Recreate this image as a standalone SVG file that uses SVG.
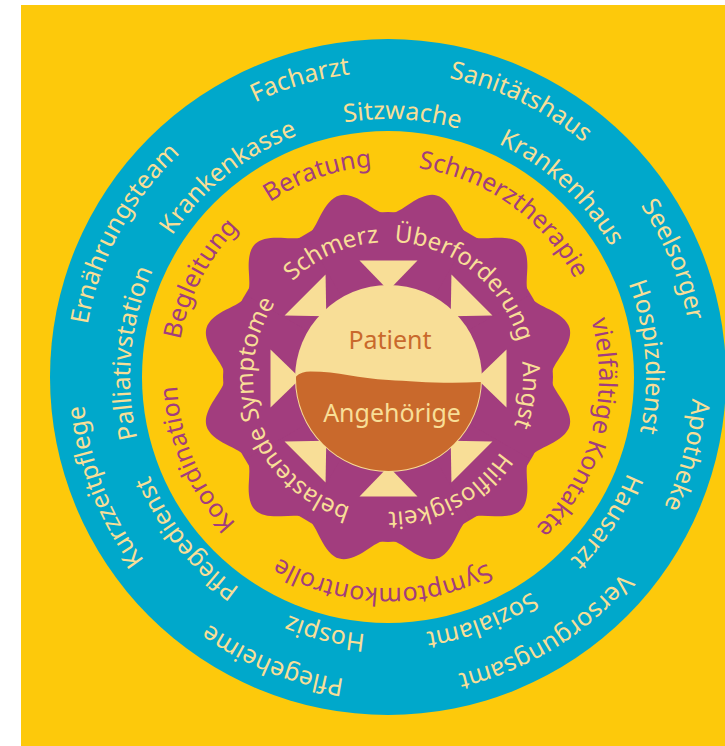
<svg xmlns="http://www.w3.org/2000/svg" xmlns:xlink="http://www.w3.org/1999/xlink" width="725" height="746" viewBox="0 0 725 746">
<style>
text{font-family:'Noto Sans','Open Sans','DejaVu Sans',sans-serif;}
.ring{font-size:25px;text-anchor:middle;}
.gear{font-size:24px;text-anchor:middle;}
.lt{fill:#F8DE97;}
.pu{fill:#A23D7E;}
</style>
<defs>
<path id="pO" d="M388,72 A305,305 0 0 1 388,682 A305,305 0 0 1 388,72 A305,305 0 0 1 388,682 A305,305 0 0 1 388,72"/>
<path id="pI" d="M388,119 A258,258 0 0 1 388,635 A258,258 0 0 1 388,119 A258,258 0 0 1 388,635 A258,258 0 0 1 388,119"/>
<path id="pY" d="M388,166 A211,211 0 0 1 388,588 A211,211 0 0 1 388,166 A211,211 0 0 1 388,588 A211,211 0 0 1 388,166"/>
<path id="pG" d="M388,242 A135,135 0 0 1 388,512 A135,135 0 0 1 388,242 A135,135 0 0 1 388,512 A135,135 0 0 1 388,242"/>
<path id="lobe" d="M0,0 L-42.19,-157.45 C-35.32,-159.29 -29.65,-166.51 -22.91,-174 C-16.17,-181.49 -8.2,-188 0,-188 C8.2,-188 16.17,-181.49 22.91,-174 C29.65,-166.51 35.32,-159.29 42.19,-157.45 Z" fill="#A23D7E"/>
<path id="tri" d="M-29,-118 L29,-118 L0,-88 Z" fill="#F8DE97"/>
<clipPath id="discClip"><circle cx="0" cy="0" r="92.5"/></clipPath>
</defs>
<g id="background">
<rect x="0" y="0" width="725" height="746" fill="#FFFFFF"/>
<rect x="21" y="5" width="704" height="741" fill="#FDC90B"/>
</g>
<g id="rings">
<circle cx="388" cy="377" r="338" fill="#00A8CB"/>
<circle cx="388" cy="377" r="246" fill="#FDC90B"/>
</g>
<g id="gear" transform="translate(388,377)">
<circle cx="0" cy="0" r="165" fill="#A23D7E"/>
<use xlink:href="#lobe" transform="rotate(15)"/>
<use xlink:href="#lobe" transform="rotate(45)"/>
<use xlink:href="#lobe" transform="rotate(75)"/>
<use xlink:href="#lobe" transform="rotate(105)"/>
<use xlink:href="#lobe" transform="rotate(135)"/>
<use xlink:href="#lobe" transform="rotate(165)"/>
<use xlink:href="#lobe" transform="rotate(195)"/>
<use xlink:href="#lobe" transform="rotate(225)"/>
<use xlink:href="#lobe" transform="rotate(255)"/>
<use xlink:href="#lobe" transform="rotate(285)"/>
<use xlink:href="#lobe" transform="rotate(315)"/>
<use xlink:href="#lobe" transform="rotate(345)"/>
</g>
<g id="center" transform="translate(388.5,378.5)">
<use xlink:href="#tri" transform="rotate(0)"/>
<use xlink:href="#tri" transform="rotate(45)"/>
<use xlink:href="#tri" transform="rotate(90)"/>
<use xlink:href="#tri" transform="rotate(135)"/>
<use xlink:href="#tri" transform="rotate(180)"/>
<use xlink:href="#tri" transform="rotate(225)"/>
<use xlink:href="#tri" transform="rotate(270)"/>
<use xlink:href="#tri" transform="rotate(315)"/>
<circle cx="0" cy="0" r="93.5" fill="#F8DE97"/>
<path clip-path="url(#discClip)" d="M-98,12 C-97,-1 -90,-7 -78,-7 C-50,-7 -30,0 0,1.5 C25,3 60,6 100,3 L100,100 L-98,100 Z" fill="#C9692C"/>
</g>
<g id="patient"><text x="390" y="349" font-size="25" text-anchor="middle" fill="#C9692C">Patient</text></g>
<g id="angehoerige"><text x="392" y="422" font-size="25" text-anchor="middle" class="lt">Angehörige</text></g>

<g id="outer-ring-labels" class="ring lt">
<g id="facharzt"><text><textPath xlink:href="#pO" startOffset="47.71%">Facharzt</textPath></text></g>
<g id="sanitaetshaus"><text><textPath xlink:href="#pO" startOffset="53.57%">Sanitätshaus</textPath></text></g>
<g id="seelsorger"><text><textPath xlink:href="#pO" startOffset="59.39%">Seelsorger</textPath></text></g>
<g id="apotheke"><text><textPath xlink:href="#pO" startOffset="64.53%">Apotheke</textPath></text></g>
<g id="versorgungsamt"><text><textPath xlink:href="#pO" startOffset="70.6%">Versorgungsamt</textPath></text></g>
<g id="pflegeheime"><text><textPath xlink:href="#pO" startOffset="28.07%">Pflegeheime</textPath></text></g>
<g id="kurzzeitpflege"><text><textPath xlink:href="#pO" startOffset="34.56%">Kurzzeitpflege</textPath></text></g>
<g id="ernaehrungsteam"><text><textPath xlink:href="#pO" startOffset="41.46%">Ernährungsteam</textPath></text></g>
</g>
<g id="inner-ring-labels" class="ring lt">
<g id="sitzwache"><text><textPath xlink:href="#pI" startOffset="50.44%">Sitzwache</textPath></text></g>
<g id="krankenhaus"><text><textPath xlink:href="#pI" startOffset="55.9%">Krankenhaus</textPath></text></g>
<g id="hospizdienst"><text><textPath xlink:href="#pI" startOffset="61.88%">Hospizdienst</textPath></text></g>
<g id="hausarzt"><text><textPath xlink:href="#pI" startOffset="67.15%">Hausarzt</textPath></text></g>
<g id="sozialamt"><text><textPath xlink:href="#pI" startOffset="72.07%">Sozialamt</textPath></text></g>
<g id="hospiz"><text><textPath xlink:href="#pI" startOffset="26.92%">Hospiz</textPath></text></g>
<g id="pflegedienst"><text><textPath xlink:href="#pI" startOffset="32.13%">Pflegedienst</textPath></text></g>
<g id="palliativstation"><text><textPath xlink:href="#pI" startOffset="38.24%">Palliativstation</textPath></text></g>
<g id="krankenkasse"><text><textPath xlink:href="#pI" startOffset="44.63%">Krankenkasse</textPath></text></g>
</g>
<g id="yellow-ring-labels" class="ring pu">
<g id="beratung"><text><textPath xlink:href="#pY" startOffset="47.33%">Beratung</textPath></text></g>
<g id="schmerztherapie"><text><textPath xlink:href="#pY" startOffset="54.9%">Schmerztherapie</textPath></text></g>
<g id="vielfaeltige-kontakte"><text><textPath xlink:href="#pY" startOffset="64.58%">vielfältige Kontakte</textPath></text></g>
<g id="symptomkontrolle"><text><textPath xlink:href="#pY" startOffset="25.21%">Symptomkontrolle</textPath></text></g>
<g id="koordination"><text><textPath xlink:href="#pY" startOffset="34.28%">Koordination</textPath></text></g>
<g id="begleitung"><text><textPath xlink:href="#pY" startOffset="41.33%">Begleitung</textPath></text></g>
</g>
<g id="gear-labels" class="gear lt">
<g id="schmerz"><text><textPath xlink:href="#pG" startOffset="46.61%">Schmerz</textPath></text></g>
<g id="ueberforderung"><text><textPath xlink:href="#pG" startOffset="55.39%">Überforderung</textPath></text></g>
<g id="angst"><text><textPath xlink:href="#pG" startOffset="63.51%">Angst</textPath></text></g>
<g id="hilflosigkeit"><text><textPath xlink:href="#pG" startOffset="71.07%">Hilflosigkeit</textPath></text></g>
<g id="belastende-symptome"><text><textPath xlink:href="#pG" startOffset="34.69%">belastende Symptome</textPath></text></g>
</g>
</svg>
